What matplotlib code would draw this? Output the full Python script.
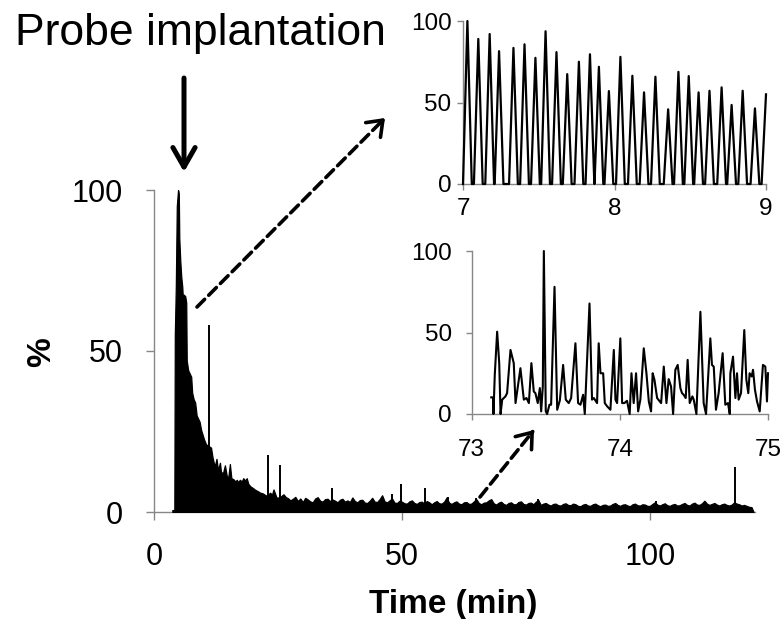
import matplotlib
matplotlib.use("Agg")
import matplotlib.pyplot as plt
from matplotlib.patches import FancyArrowPatch
import numpy as np

plt.rcParams["font.family"] = ["Liberation Sans", "DejaVu Sans"]

# ---------------- data ----------------
# Full recording, first 27 min: relative signal (%) versus time (min)
early_time = [
    3.7, 4.1, 4.2, 4.4, 4.6, 4.85, 5.0, 5.1, 5.3, 5.5,
    5.7, 5.8, 6.0, 6.3, 6.5, 6.6, 6.9, 7.2, 7.5, 7.7,
    8.0, 8.3, 8.6, 8.9, 9.2, 9.5, 9.8, 10.1, 10.5, 11.0,
    11.5, 11.8, 12.1, 12.3, 12.6, 12.9, 13.3, 13.5, 13.9, 14.3,
    14.7, 15.0, 15.3, 15.6, 16.0, 16.4, 16.7, 17.0, 17.3, 17.7,
    18.0, 18.4, 18.7, 19.0, 19.4, 19.9, 20.4, 20.9, 21.4, 21.9,
    22.4, 22.8, 23.4, 23.8, 24.1, 24.7, 25.3, 26.1, 26.6,
]
early_pct = [
    0.6, 0.6, 55, 70, 95, 100, 99, 85, 78, 73,
    70, 67, 67.5, 67, 65, 47, 44, 43, 42, 37,
    35, 34, 30, 29, 28, 25.5, 24, 22.5, 21, 20.5,
    20, 17, 15, 14.5, 16.5, 13, 15.3, 12.5, 12, 14.5,
    11, 11, 14.9, 10.5, 10.2, 9.5, 10, 9.2, 10, 9.5,
    10.5, 9.8, 10.5, 8.8, 8, 7.5, 6.9, 6.5, 6, 5.8,
    5.3, 5, 6, 5.4, 7, 4.5, 4.5, 5.5, 4.6,
]

# Full recording from 27 min on, sampled every 0.5 min
tail_start, tail_step = 27.0, 0.5
tail_pct = [
    4.3, 3.6, 4.1, 4.7, 3.4, 4.2, 3.1, 4.4, 3.9, 3.3,
    3.0, 4.2, 4.6, 3.5, 3.2, 4.0, 4.1, 3.4, 3.9, 3.5,
    3.0, 3.8, 4.1, 3.2, 3.6, 3.1, 4.5, 3.4, 3.0, 3.7,
    3.8, 2.9, 2.8, 3.5, 4.4, 3.2, 3.1, 4.0, 5.2, 3.3,
    3.0, 3.6, 4.2, 2.9, 2.8, 3.5, 3.2, 2.7, 2.6, 3.3,
    3.6, 2.8, 2.5, 3.1, 3.2, 2.6, 3.4, 3.0, 2.4, 3.0,
    3.4, 2.7, 2.6, 3.2, 4.5, 2.9, 2.5, 3.0, 3.3, 2.6,
    2.4, 3.0, 3.1, 2.5, 2.6, 3.3, 4.0, 2.8, 2.4, 2.9,
    3.0, 3.6, 4.0, 2.7, 2.3, 2.9, 3.2, 2.5, 2.2, 2.8,
    3.0, 2.4, 2.4, 3.1, 3.3, 2.5, 2.3, 2.8, 2.9, 2.4,
    3.2, 3.7, 2.2, 2.6, 2.8, 2.3, 2.0, 2.5, 2.6, 2.1,
    2.0, 2.5, 2.7, 2.2, 2.1, 2.6, 2.4, 1.9, 1.8, 2.3,
    2.5, 2.0, 1.9, 2.4, 2.6, 2.1, 1.8, 2.2, 2.3, 1.9,
    2.0, 2.5, 2.8, 2.2, 1.9, 2.3, 2.4, 2.0, 1.8, 2.4,
    2.6, 2.1, 2.0, 2.4, 2.3, 1.9, 1.9, 2.5, 3.0, 2.3,
    2.0, 2.4, 2.7, 2.1, 1.9, 2.3, 2.5, 2.0, 2.1, 2.5,
    2.8, 2.2, 2.0, 2.6, 2.9, 2.3, 2.2, 2.7, 3.5, 2.6,
    2.2, 2.5, 2.8, 2.3, 2.0, 2.4, 2.6, 2.2, 2.0, 2.3,
    3.0, 2.6, 2.4, 2.0, 2.2, 1.9, 1.6, 1.5,
]
trace_end = 120.9

# Isolated sharp spikes in the full recording
spike_time = [11.1, 22.9, 25.4, 35.8, 47.9, 49.9, 54.6, 59.3, 65.0, 77.4, 101.3, 117.1]
spike_pct = [58, 17.7, 14.5, 7.5, 5.5, 8.8, 7.4, 4.8, 4.4, 4.0, 3.4, 14]

# Detail 7-9 min: oscillation peaks (time, height)
peak_time = [
    7.029, 7.101, 7.176, 7.238, 7.333, 7.406, 7.478, 7.545, 7.617, 7.688,
    7.765, 7.838, 7.897, 7.963, 8.039, 8.118, 8.195, 8.270, 8.354, 8.422,
    8.490, 8.555, 8.627, 8.707, 8.773, 8.846, 8.927, 9.000,
]
peak_pct = [
    100, 89, 92, 81.5, 83.5, 85.7, 77.4, 93.7, 80.9, 67.4,
    75, 79.6, 71.9, 57, 78, 66.4, 56.2, 65.8, 45.8, 68.8,
    66.2, 56.2, 57.2, 59.3, 48.5, 57.2, 46.4, 55,
]

# Detail 73-75 min trace
late_time = [
    73.133, 73.146, 73.148, 73.157, 73.173, 73.187, 73.196, 73.207, 73.229, 73.240,
    73.263, 73.285, 73.297, 73.330, 73.353, 73.371, 73.387, 73.404, 73.420, 73.431,
    73.447, 73.461, 73.470, 73.481, 73.488, 73.501, 73.510, 73.526, 73.537, 73.560,
    73.578, 73.596, 73.618, 73.636, 73.656, 73.672, 73.701, 73.719, 73.735, 73.753,
    73.764, 73.796, 73.813, 73.825, 73.847, 73.858, 73.870, 73.888, 73.899, 73.915,
    73.937, 73.960, 73.971, 73.982, 74.004, 74.016, 74.031, 74.049, 74.067, 74.079,
    74.094, 74.110, 74.124, 74.139, 74.162, 74.180, 74.196, 74.211, 74.222, 74.234,
    74.252, 74.270, 74.279, 74.297, 74.315, 74.330, 74.346, 74.360, 74.375, 74.391,
    74.409, 74.420, 74.431, 74.445, 74.458, 74.472, 74.490, 74.499, 74.517, 74.544,
    74.566, 74.582, 74.611, 74.622, 74.634, 74.649, 74.667, 74.694, 74.712, 74.730,
    74.742, 74.746, 74.764, 74.780, 74.791, 74.802, 74.818, 74.840, 74.854, 74.867,
    74.876, 74.890, 74.899, 74.912, 74.926, 74.944, 74.966, 74.982, 74.993, 75.000,
]
late_pct = [
    10.2, 10.2, 0, 24, 50.5, 31.2, 0, 8.8, 10.8, 12.8,
    39.3, 31.2, 6.7, 28.1, 8.8, 9.8, 6.7, 31.2, 13.8, 12.8,
    6.7, 15.9, 1.6, 16.9, 100, 1.6, 0, 5.7, 5.7, 78,
    2.6, 8.4, 30.1, 8.8, 6.7, 9.8, 43.4, 6.7, 5.7, 11.8,
    0, 67.8, 8.8, 9.8, 6.7, 43.4, 25, 25, 6.7, 4.7,
    2.6, 39.3, 8.8, 6.7, 46.4, 6.7, 6.7, 8.1, 0, 25,
    6.7, 25, 1.6, 8.8, 40.3, 25, 7.7, 1.6, 25, 21,
    9.8, 7.7, 6.7, 29.1, 6.7, 21.4, 16.9, 0, 27.1, 30.1,
    15.9, 12.8, 11.8, 9.8, 33.2, 6.7, 10.8, 8.8, 0, 62.7,
    6.7, 0, 46.4, 30.1, 29.1, 2.6, 12.8, 37.3, 5.7, 6.7,
    0, 25, 35.2, 9.8, 25, 8.8, 12.8, 51.5, 21, 12.8,
    25, 23, 27.1, 14.9, 7.7, 1.6, 30.1, 29.1, 7.7, 25,
]

main_ticks = [0, 50, 100]
early_xticks = [7, 8, 9]
late_xticks = [73, 74, 75]
inset_yticks = [0, 50, 100]

# ---------------- layout helpers ----------------
W, H = 783, 619
fig = plt.figure(figsize=(W / 100, H / 100), dpi=100)
GRAY = "#878787"


def box(l, t, r, b):
    return [l / W, 1 - b / H, (r - l) / W, (b - t) / H]


def fp(x, y):
    return (x / W, 1 - y / H)


def style_axes(a, fs, pad_x, pad_y, tlen):
    for s in ("top", "right"):
        a.spines[s].set_visible(False)
    for s in ("left", "bottom"):
        a.spines[s].set_color(GRAY)
        a.spines[s].set_linewidth(1.0)
    a.tick_params(axis="both", colors=GRAY, labelcolor="black",
                  labelsize=fs, length=tlen, width=1.0, direction="out")
    a.tick_params(axis="x", pad=pad_x)
    a.tick_params(axis="y", pad=pad_y)


# ---------------- main trace ----------------
tail_time = tail_start + tail_step * np.arange(len(tail_pct))
full_time = np.concatenate([early_time, tail_time, [trace_end]])
full_pct = np.concatenate([early_pct, tail_pct, [0]])

ax = fig.add_axes(box(154, 190, 755, 512))
ax.fill_between(full_time, full_pct, 0, color="black", lw=0.9, zorder=3)
ax.vlines(spike_time, 0, spike_pct, color="black", lw=1.4, zorder=3)
ax.set_xlim(0, 121.2)
ax.set_ylim(0, 100)
ax.set_xticks(main_ticks)
ax.set_yticks(main_ticks)
style_axes(ax, 22, 15.5, 16.5, 6)

# ---------------- inset 7-9 min ----------------
ax1 = fig.add_axes(box(463, 21, 766, 184))
hw = 0.029  # half base width of each oscillation peak (min)
pt = np.asarray(peak_time)
ph = np.asarray(peak_pct)
px = np.column_stack([pt - hw, pt, pt + hw]).ravel()
py = np.column_stack([np.zeros_like(ph), ph, np.zeros_like(ph)]).ravel()
keep = px <= 9.0 + 1e-9
ax1.plot(px[keep], py[keep], color="black", lw=1.6, zorder=3,
         clip_on=False, solid_joinstyle="round")
ax1.set_xlim(7, 9)
ax1.set_ylim(0, 100)
ax1.set_xticks(early_xticks)
ax1.set_yticks(inset_yticks)
style_axes(ax1, 17.5, 6, 4, 4.3)

# ---------------- inset 73-75 min ----------------
ax2 = fig.add_axes(box(471.5, 251, 768, 414))
ax2.plot(late_time, late_pct, color="black", lw=1.5, zorder=3,
         clip_on=False, solid_joinstyle="round")
ax2.set_xlim(73, 75)
ax2.set_ylim(0, 100)
ax2.set_xticks(late_xticks)
ax2.set_yticks(inset_yticks)
style_axes(ax2, 17.5, 14, 10, 4.3)

# ---------------- text ----------------
fig.text(15 / W, 1 - 45 / H, "Probe implantation", fontsize=32,
         ha="left", va="baseline")
fig.text(42 / W, 1 - 352 / H, "%", rotation=90, fontsize=24,
         fontweight="bold", ha="center", va="center")
fig.text(453 / W, 1 - 613 / H, "Time (min)", fontsize=24,
         fontweight="bold", ha="center", va="baseline")

# ---------------- arrows ----------------
fig.add_artist(FancyArrowPatch(
    fp(184, 78), fp(184, 172), transform=fig.transFigure,
    arrowstyle="->,head_length=1.4,head_width=0.8", mutation_scale=10,
    lw=3.6, color="black", shrinkA=0, shrinkB=0))


def dashed_arrow(tail, tip):
    (x0, y0), (x1, y1) = tail, tip
    d = np.hypot(x1 - x0, y1 - y0)
    ux, uy = (x1 - x0) / d, (y1 - y0) / d
    fig.add_artist(FancyArrowPatch(
        fp(x0, y0), fp(x1 - ux * 2, y1 - uy * 2), transform=fig.transFigure,
        arrowstyle="-", lw=2.6, color="black", linestyle=(0, (3, 1.6)),
        shrinkA=0, shrinkB=0))
    fig.add_artist(FancyArrowPatch(
        fp(x1 - ux * 5, y1 - uy * 5), fp(x1, y1), transform=fig.transFigure,
        arrowstyle="->,head_length=1.0,head_width=0.75", mutation_scale=10,
        lw=2.6, color="black", shrinkA=0, shrinkB=0))


dashed_arrow((197, 307), (385, 118))
dashed_arrow((480, 497), (534, 430))

fig.savefig("out.png", dpi=100)
